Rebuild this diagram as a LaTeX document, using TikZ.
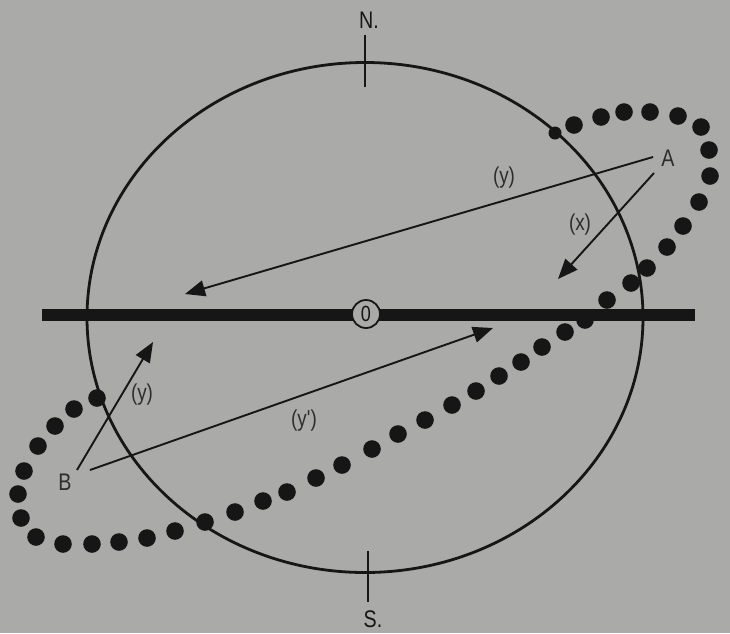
\documentclass[tikz,border=0pt]{standalone}
\usepackage{fontspec}
\setmainfont{Liberation Sans}
\newfontfamily\narrowsans[FakeStretch=0.82]{Liberation Sans}
\usetikzlibrary{arrows.meta,shapes.geometric}
\definecolor{bg}{RGB}{170,170,168}
\definecolor{ink}{RGB}{22,22,22}
\definecolor{lbl}{RGB}{45,45,45}
\tikzset{
  dotm/.style={fill=ink,draw=none},
  vec/.style={draw=ink,line width=1.9pt,-{Triangle[length=20pt,width=16pt]}},
  lab/.style={text=lbl,font=\narrowsans\fontsize{23}{23}\selectfont,inner sep=0pt},
  ptlab/.style={text=lbl,font=\narrowsans\fontsize{24}{24}\selectfont,inner sep=0pt},
  dir/.style={text=ink,font=\narrowsans\fontsize{24}{24}\selectfont,inner sep=0pt},
}
\begin{document}
\begin{tikzpicture}[x=1pt,y=-1pt]
\useasboundingbox (0,0) rectangle (730,633);
\fill[bg] (0,0) rectangle (730,633);
% dotted orbit
\foreach \p in {(574,125),(601,117),(624,112),(650,112),(678,116),(701,127),(709,150),(710,176),(699,202),(683,226),(667,247),(647,268),(631,283),(607,300),(585,320),(565,332),(542,347),(521,362),(499,376),(476,391),(452,405),(425,420),(398,434),(372,449),(342,465),(316,478),(287,492),(263,501),(235,512),(205,522),(175,531),(147,538),(119,542),(92,544),(63,544),(36,537),(21,518),(18,494),(24,471),(38,446),(55,426),(74,409),(97,398)}
  \fill[dotm] \p circle[radius=8.8];
\fill[dotm] (555,133) circle[radius=6.5];
% circle of horizon
\node[draw=ink,line width=2.8pt,ellipse,minimum width=556pt,minimum height=510pt,inner sep=0pt] (horizon) at (365,317.5) {};
% meridian ticks
\coordinate (nt) at (365,35);
\coordinate (nb) at (365,87);
\coordinate (st) at (368,551);
\coordinate (sb) at (368,602);
\draw[ink,line width=2pt] (nt) -- (nb);
\draw[ink,line width=2pt] (st) -- (sb);
\node[dir] (N) at (369,20) {N.};
\node[dir] (S) at (373,619) {S.};
% thick bar
\coordinate (barl) at (42,315);
\coordinate (barr) at (695,315);
\draw[ink,line width=12.5pt] (barl) -- (barr);
\node[circle,draw=ink,line width=1.8pt,fill=bg,minimum size=28pt,inner sep=0pt,font=\narrowsans\fontsize{22}{22}\selectfont,text=ink] (O) at (366,314) {0};
% point A and its arrows
\node[ptlab] (A) at (668,158) {A};
\coordinate (a1) at (653,157);
\coordinate (a1t) at (185,294);
\coordinate (a2) at (654,173);
\coordinate (a2t) at (558,279);
\draw[vec] (a1) -- (a1t);
\draw[vec] (a2) -- (a2t);
\node[lab] (ly1) at (504,178) {(y)};
\node[lab] (lx) at (580,225) {(x)};
% point B and its arrows
\node[ptlab] (B) at (65,482) {B};
\coordinate (b1) at (77,470);
\coordinate (b1t) at (153,342);
\coordinate (b2) at (90,470);
\coordinate (b2t) at (493,328);
\draw[vec] (b1) -- (b1t);
\draw[vec] (b2) -- (b2t);
\node[lab] (ly2) at (142,395) {(y)};
\node[lab] (lyp) at (304,421) {(y')};
\end{tikzpicture}
\end{document}
